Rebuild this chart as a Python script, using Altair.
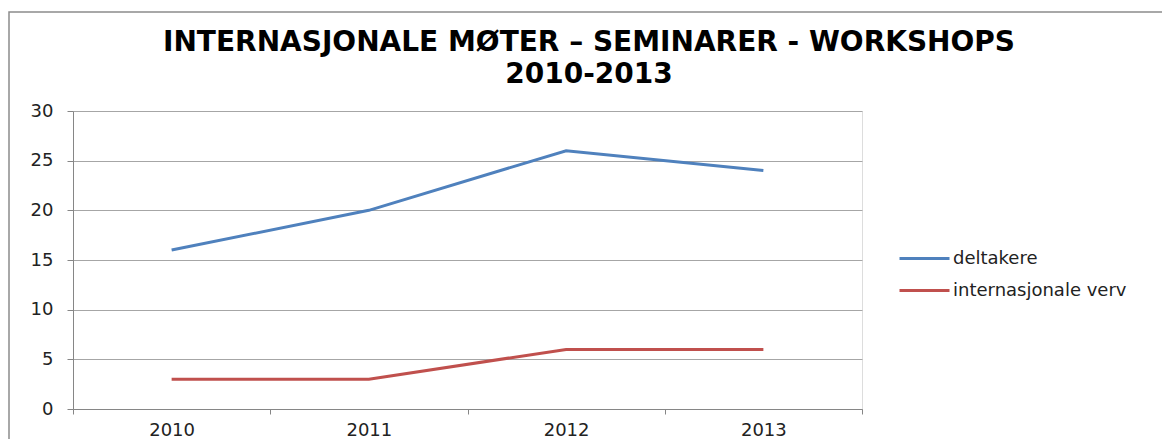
import altair as alt
import pandas as pd

years = ["2010", "2011", "2012", "2013"]
deltakere = [16, 20, 26, 24]
verv = [3, 3, 6, 6]
series_names = ["deltakere", "internasjonale verv"]
colors = ["#4F81BD", "#C0504D"]
title_lines = ["INTERNASJONALE MØTER – SEMINARER - WORKSHOPS", "2010-2013"]

rows = []
for y, v in zip(years, deltakere):
    rows.append({"year": y, "value": v, "series": series_names[0]})
for y, v in zip(years, verv):
    rows.append({"year": y, "value": v, "series": series_names[1]})
df = pd.DataFrame(rows)

FONT = "DejaVu Sans"
one = pd.DataFrame({"a": [0]})

border = alt.Chart(one).mark_rect(
    fill="transparent", stroke="#8c8c8c", strokeWidth=1.5
).encode(
    x=alt.value(-64), x2=alt.value(1200), y=alt.value(-99), y2=alt.value(500)
)

title = alt.Chart(one).mark_text(
    font=FONT, fontSize=28, fontWeight="bold", color="#000000",
    align="center", baseline="alphabetic", lineHeight=32
).encode(
    x=alt.value(516), y=alt.value(-60), text=alt.value(title_lines)
)

lines = alt.Chart(df).mark_line(strokeWidth=3).encode(
    x=alt.X("year:O", bandPosition=0.5,
            scale=alt.Scale(type="band", paddingInner=0, paddingOuter=0),
            axis=alt.Axis(title=None, labelAngle=0, tickBand="extent",
                          tickSize=5, labelPadding=7, domainColor="#868686",
                          tickColor="#868686", labelFontSize=18,
                          labelColor="#222222", labelFont=FONT)),
    y=alt.Y("value:Q", scale=alt.Scale(domain=[0, 30], nice=False),
            axis=alt.Axis(title=None, values=[0, 5, 10, 15, 20, 25, 30],
                          tickSize=6, labelPadding=14, domainColor="#868686",
                          tickColor="#868686", gridColor="#a6a6a6",
                          labelFontSize=18, labelColor="#222222",
                          labelFont=FONT)),
    color=alt.Color("series:N",
                    scale=alt.Scale(domain=series_names, range=colors),
                    legend=alt.Legend(title=None, orient="none",
                                      legendX=840, legendY=136,
                                      symbolType="M-2.5,0H2.5", symbolSize=400,
                                      symbolStrokeWidth=3, labelFontSize=18,
                                      labelFont=FONT, labelColor="#222222",
                                      labelLimit=400,
                                      rowPadding=11, labelOffset=17)),
)

chart = alt.layer(border, title, lines).properties(
    width=789, height=298,
    autosize=alt.AutoSizeParams(type="none"),
    padding={"left": 65, "top": 103, "right": 300, "bottom": 30},
).configure_view(stroke=None).configure(background="white")

chart.save("out.html", embed_options={"renderer": "svg", "actions": False})
